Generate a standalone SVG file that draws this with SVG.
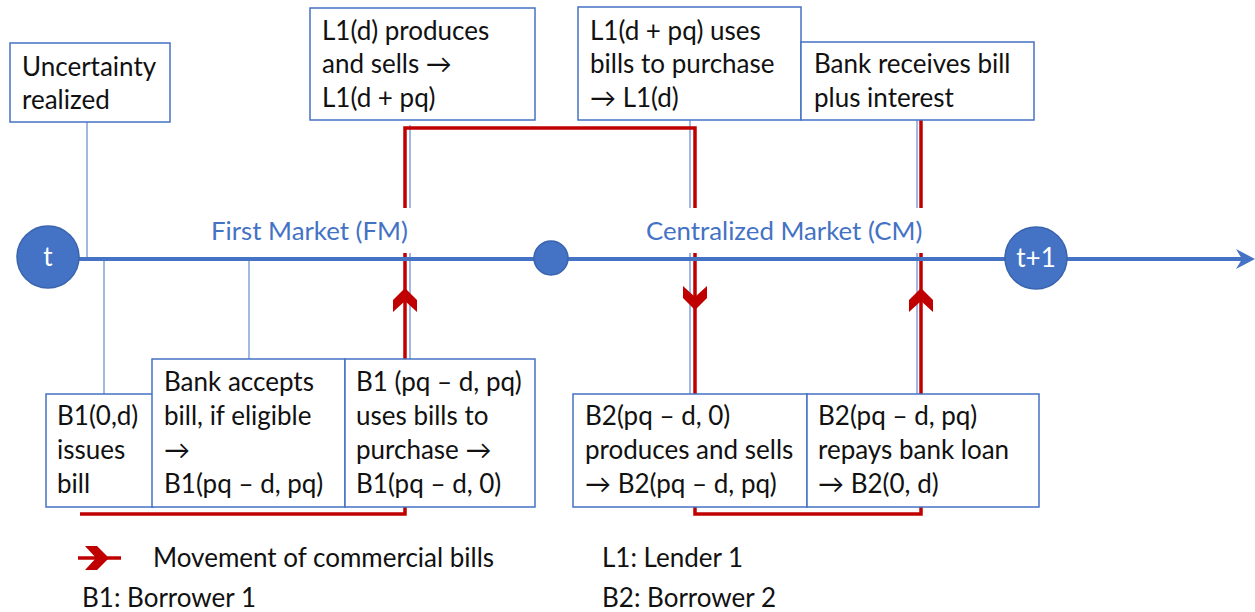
<svg xmlns="http://www.w3.org/2000/svg" width="1255" height="612" viewBox="0 0 1255 612">
<style>
.box{fill:#fff;stroke:#4472C4;stroke-width:1.5}
.t{font-family:Lato,"Liberation Sans",sans-serif;font-size:26px;fill:#111}
.blue{font-family:Lato,"Liberation Sans",sans-serif;font-size:25.8px;fill:#4472C4}
.thin{stroke:#4472C4;stroke-width:1;fill:none}
.red{stroke:#C00000;stroke-width:3.5;fill:none}
.chev{fill:#C00000}
.circ{fill:#4472C4;stroke:#3A64AE;stroke-width:1.5}
.ct{font-family:Lato,"Liberation Sans",sans-serif;font-size:26px;fill:#fff;text-anchor:middle}
</style>
<defs>
<path id="chevUp" d="M0,-12 L12,0 L12,12 L0,1 L-12,12 L-12,0 Z"/>
</defs>
<rect width="1255" height="612" fill="#fff"/>

<g id="connectors">
<line class="thin" x1="87" y1="122" x2="87" y2="258"/>
<line class="thin" x1="104" y1="258" x2="104" y2="395"/>
<line class="thin" x1="249" y1="258" x2="249" y2="359"/>
<line class="thin" x1="410" y1="125" x2="410" y2="359"/>
<line class="thin" x1="690" y1="120" x2="690" y2="394"/>
<line class="thin" x1="917" y1="120" x2="917" y2="394"/>
<path class="red" d="M80,514 H405 V128 H695 V514 H921 V120"/>
<use href="#chevUp" class="chev" x="405" y="300"/>
<use href="#chevUp" class="chev" transform="translate(695,298) rotate(180)"/>
<use href="#chevUp" class="chev" x="921" y="300"/>
</g>

<g id="axis">
<rect x="200" y="208" width="213" height="45" fill="#fff"/>
<rect x="636" y="208" width="290" height="45" fill="#fff"/>
<line x1="78" y1="259" x2="1245" y2="259" stroke="#4472C4" stroke-width="4"/>
<path d="M1255,259 L1236,249 L1242,259 L1236,269 Z" fill="#4472C4"/>
<text class="blue" x="211" y="240">First Market (FM)</text>
<text class="blue" x="646" y="240">Centralized Market (CM)</text>
</g>

<g id="node-t"><circle class="circ" cx="48" cy="257" r="31"/><text class="ct" x="48" y="266">t</text></g>
<g id="node-mid"><circle class="circ" cx="551" cy="258" r="17"/></g>
<g id="node-t1"><circle class="circ" cx="1036" cy="258" r="31"/><text class="ct" x="1036" y="267">t+1</text></g>

<g id="node-uncertainty">
<rect class="box" x="10" y="43" width="160" height="79"/>
<text class="t" x="22" y="76">Uncertainty</text>
<text class="t" x="22" y="109">realized</text>
</g>
<g id="node-l1-produces">
<rect class="box" x="310" y="8" width="225" height="112"/>
<text class="t" x="322" y="40">L1(d) produces</text>
<text class="t" x="322" y="73">and sells →</text>
<text class="t" x="322" y="107">L1(d + pq)</text>
</g>
<g id="node-l1-uses">
<rect class="box" x="578" y="7" width="223" height="113"/>
<text class="t" x="590" y="40">L1(d + pq) uses</text>
<text class="t" x="590" y="73">bills to purchase</text>
<text class="t" x="590" y="107">→ L1(d)</text>
</g>
<g id="node-bank-receives">
<rect class="box" x="801" y="42" width="233" height="78"/>
<text class="t" x="814" y="73">Bank receives bill</text>
<text class="t" x="814" y="107">plus interest</text>
</g>

<g id="node-b1-issues">
<rect class="box" x="46" y="394" width="107" height="113"/>
<text class="t" x="57" y="425">B1(0,d)</text>
<text class="t" x="57" y="459">issues</text>
<text class="t" x="57" y="493">bill</text>
</g>
<g id="node-bank-accepts">
<rect class="box" x="152" y="359" width="193" height="148"/>
<text class="t" x="164" y="391">Bank accepts</text>
<text class="t" x="164" y="425">bill, if eligible</text>
<text class="t" x="164" y="459">→</text>
<text class="t" x="164" y="493">B1(pq – d, pq)</text>
</g>
<g id="node-b1-uses">
<rect class="box" x="345" y="359" width="190" height="148"/>
<text class="t" x="356" y="391">B1 (pq – d, pq)</text>
<text class="t" x="356" y="425">uses bills to</text>
<text class="t" x="356" y="459">purchase →</text>
<text class="t" x="356" y="493">B1(pq – d, 0)</text>
</g>
<g id="node-b2-produces">
<rect class="box" x="573" y="394" width="234" height="113"/>
<text class="t" x="585" y="425">B2(pq – d, 0)</text>
<text class="t" x="585" y="459">produces and sells</text>
<text class="t" x="585" y="493">→ B2(pq – d, pq)</text>
</g>
<g id="node-b2-repays">
<rect class="box" x="807" y="394" width="232" height="113"/>
<text class="t" x="818" y="425">B2(pq – d, pq)</text>
<text class="t" x="818" y="459">repays bank loan</text>
<text class="t" x="818" y="493">→ B2(0, d)</text>
</g>

<g id="legend">
<line x1="78" y1="558" x2="121" y2="558" stroke="#C00000" stroke-width="3.5"/>
<use href="#chevUp" class="chev" transform="translate(97,558) rotate(90)"/>
<text class="t" x="153" y="567">Movement of commercial bills</text>
<text class="t" x="602" y="567">L1: Lender 1</text>
<text class="t" x="82" y="607">B1: Borrower 1</text>
<text class="t" x="602" y="607">B2: Borrower 2</text>
</g>
</svg>
